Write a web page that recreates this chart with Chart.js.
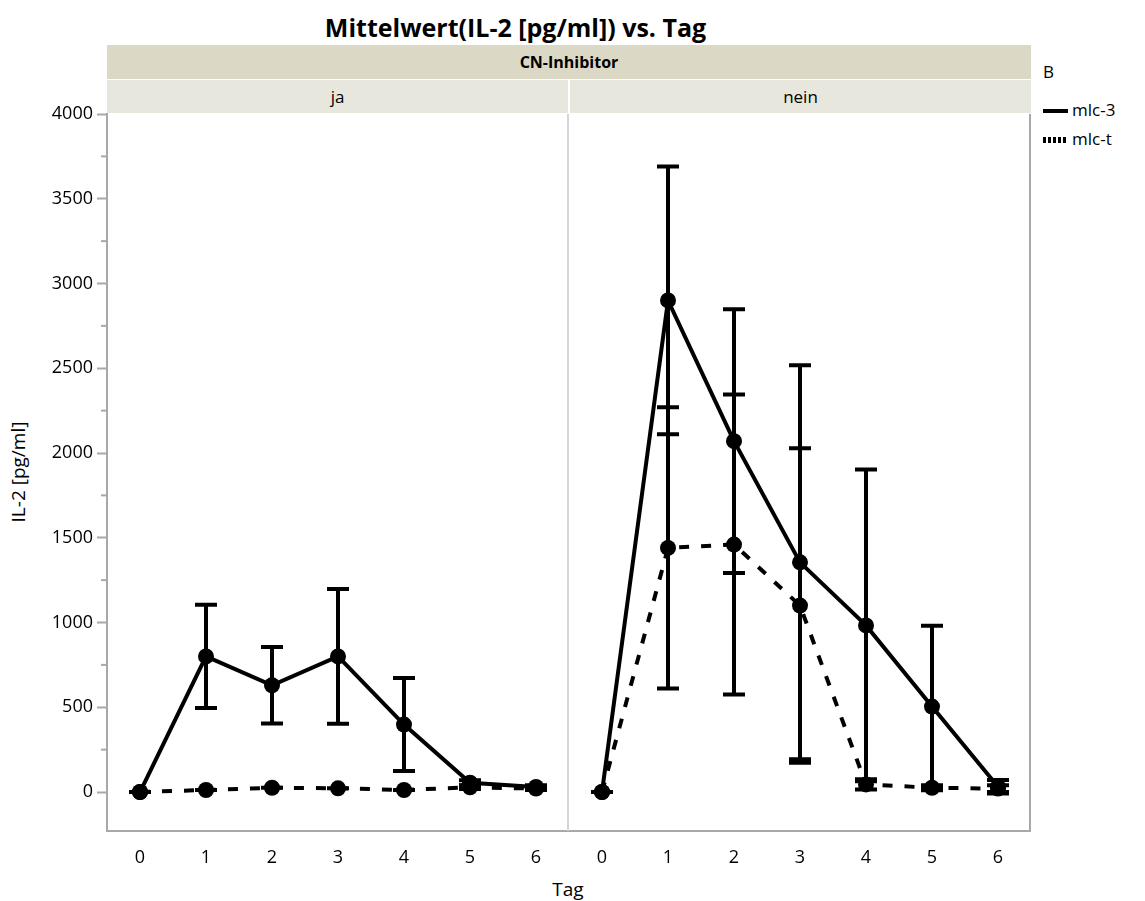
<!DOCTYPE html>
<html>
<head>
<meta charset="utf-8">
<script src="https://cdn.jsdelivr.net/npm/chart.js@4.4.1/dist/chart.umd.min.js"></script>
<style>
    body { margin: 0; background: #ffffff; width: 1145px; height: 901px; position: relative; overflow: hidden; font-family: "Open Sans", sans-serif; color: #000; }
    .abs { position: absolute; }
    #title { left: 0; width: 1031px; top: 10px; text-align: center; font-weight: bold; font-size: 25px; line-height: 34px; }
    #hdr1 { left: 107px; top: 45px; width: 924px; height: 34px; line-height: 34px; background: #dcd8c6; text-align: center; font-weight: bold; font-size: 16px; }
    .hdr2 { top: 80px; height: 33px; line-height: 33px; background: #e8e7de; text-align: center; font-size: 17px; }
    #hdrJa { left: 107px; width: 461px; }
    #hdrNein { left: 570px; width: 461px; }
    #ytitle { left: 18px; top: 472px; transform: translate(-50%, -50%) rotate(-90deg); font-size: 19px; white-space: nowrap; }
    #xtitle { left: 568px; top: 889px; transform: translate(-50%, -50%); font-size: 19px; }
    #legTitle { left: 1043px; top: 60px; font-size: 17px; }
    .legLine { left: 1043px; width: 25px; }
    #leg1 { top: 109px; height: 4px; background: #000; }
    #leg2 { top: 137px; height: 6px; background: repeating-linear-gradient(to right, #000 0 3px, transparent 3px 5px); }
    .legText { left: 1072px; font-size: 17px; }
    #wrapJa { left: 0; top: 100px; width: 569px; height: 801px; }
    #wrapNein { left: 569px; top: 100px; width: 576px; height: 801px; }
</style>
</head>
<body>
<div id="title" class="abs">Mittelwert(IL-2 [pg/ml]) vs. Tag</div>
<div id="hdr1" class="abs">CN-Inhibitor</div>
<div id="hdrJa" class="abs hdr2">ja</div>
<div id="hdrNein" class="abs hdr2">nein</div>
<div id="ytitle" class="abs">IL-2 [pg/ml]</div>
<div id="xtitle" class="abs">Tag</div>
<div id="legTitle" class="abs">B</div>
<div id="leg1" class="abs legLine"></div>
<div id="leg2" class="abs legLine"></div>
<div class="abs legText" style="top:98px">mlc-3</div>
<div class="abs legText" style="top:127px">mlc-t</div>
<div id="wrapJa" class="abs"><canvas id="chartJa"></canvas></div>
<div id="wrapNein" class="abs"><canvas id="chartNein"></canvas></div>

<script>
// Tag (x axis) and y axis ticks
const days = [0, 1, 2, 3, 4, 5, 6];
const yTicks = [0, 500, 1000, 1500, 2000, 2500, 3000, 3500, 4000];
const yMinorTicks = [250, 750, 1250, 1750, 2250, 2750, 3250, 3750];

// CN-Inhibitor = ja
const jaMlc3 = [0, 800, 630, 800, 398, 55, 30];
const jaMlc3Err = [0, 305, 226, 398, 274, 15, 10];
const jaMlcT = [0, 12, 25, 22, 12, 28, 20];
const jaMlcTErr = [0, 0, 0, 0, 0, 10, 8];

// CN-Inhibitor = nein
const neinMlc3 = [0, 2900, 2070, 1355, 983, 504, 31];
const neinMlc3Err = [0, 790, 778, 1162, 920, 477, 40];
const neinMlcT = [0, 1440, 1460, 1100, 45, 25, 20];
const neinMlcTErr = [0, 830, 885, 928, 30, 15, 20];

const tickFont = { size: 18, family: "'Open Sans', sans-serif" };
const axisGray = '#a8a8a8';

const errorBarPlugin = {
    id: 'errorBars',
    beforeDatasetsDraw(chart) {
        const { ctx, scales: { x, y } } = chart;
        ctx.save();
        ctx.strokeStyle = '#000000';
        ctx.lineWidth = 4;
        chart.data.datasets.forEach(ds => {
            if (!ds.errors) return;
            ds.data.forEach((p, i) => {
                const e = ds.errors[i];
                const px = x.getPixelForValue(p.x);
                const top = y.getPixelForValue(p.y + e);
                const bot = y.getPixelForValue(p.y - e);
                ctx.beginPath();
                ctx.moveTo(px, top); ctx.lineTo(px, bot);
                ctx.moveTo(px - 11, top); ctx.lineTo(px + 11, top);
                ctx.moveTo(px - 11, bot); ctx.lineTo(px + 11, bot);
                ctx.stroke();
            });
        });
        ctx.restore();
    }
};

const framePlugin = {
    id: 'panelFrame',
    afterDraw(chart, args, opts) {
        const { ctx, chartArea: a, scales: { y } } = chart;
        ctx.save();
        ctx.lineWidth = 2;
        ctx.strokeStyle = axisGray;
        ctx.beginPath();
        ctx.moveTo(a.left, a.bottom); ctx.lineTo(a.right, a.bottom);
        ctx.stroke();
        if (opts.left) {
            ctx.beginPath();
            ctx.moveTo(a.left, a.top - 1); ctx.lineTo(a.left, a.bottom + 1);
            ctx.stroke();
            // minor ticks
            yMinorTicks.forEach(v => {
                const py = y.getPixelForValue(v);
                ctx.beginPath();
                ctx.moveTo(a.left - 6, py); ctx.lineTo(a.left, py);
                ctx.stroke();
            });
        }
        if (opts.right) {
            ctx.strokeStyle = opts.right;
            ctx.lineWidth = opts.rightWidth || 1;
            ctx.beginPath();
            ctx.moveTo(a.right - 1, a.top); ctx.lineTo(a.right - 1, a.bottom);
            ctx.stroke();
        }
        ctx.restore();
    }
};

function makeDatasets(mlc3, mlc3Err, mlcT, mlcTErr) {
    const common = {
        borderColor: '#000000',
        backgroundColor: '#000000',
        borderWidth: 4,
        pointRadius: 8,
        pointBorderWidth: 0,
        pointBackgroundColor: '#000000',
        tension: 0,
        fill: false
    };
    return [
        { ...common, label: 'mlc-t', data: days.map((d, i) => ({ x: d, y: mlcT[i] })), errors: mlcTErr, borderDash: [10, 12] },
        { ...common, label: 'mlc-3', data: days.map((d, i) => ({ x: d, y: mlc3[i] })), errors: mlc3Err }
    ];
}

function makeOptions(showY, padding, frame) {
    return {
        responsive: true,
        maintainAspectRatio: false,
        animation: false,
        layout: { padding: padding, autoPadding: false },
        plugins: {
            legend: { display: false },
            tooltip: { enabled: false },
            panelFrame: frame
        },
        scales: {
            x: {
                type: 'linear',
                min: -0.5,
                max: 6.5,
                afterBuildTicks: s => { s.ticks = days.map(v => ({ value: v })); },
                afterFit: s => { s.height = 70; s.paddingLeft = 0; s.paddingRight = 0; },
                border: { display: false },
                grid: { display: false },
                ticks: { color: '#000000', font: tickFont, padding: 8 }
            },
            y: {
                display: showY,
                min: -230,
                max: 4000,
                afterBuildTicks: s => { s.ticks = yTicks.map(v => ({ value: v })); },
                afterFit: s => {
                    s.width = showY ? 107 : 0;
                    s.paddingTop = 0;
                    s.paddingBottom = 0;
                },
                border: { display: false },
                grid: { drawOnChartArea: false, tickLength: 10, tickColor: axisGray, tickWidth: 2 },
                ticks: {
                    color: '#000000',
                    font: tickFont,
                    padding: 4,
                    callback: v => String(v)
                }
            }
        }
    };
}

new Chart(document.getElementById('chartJa'), {
    type: 'line',
    data: { datasets: makeDatasets(jaMlc3, jaMlc3Err, jaMlcT, jaMlcTErr) },
    options: makeOptions(true, { top: 14, left: 0, right: 0, bottom: 0 }, { left: true, right: '#d6d6d6', rightWidth: 2 }),
    plugins: [errorBarPlugin, framePlugin]
});

new Chart(document.getElementById('chartNein'), {
    type: 'line',
    data: { datasets: makeDatasets(neinMlc3, neinMlc3Err, neinMlcT, neinMlcTErr) },
    options: makeOptions(false, { top: 14, left: 0, right: 114, bottom: 0 }, { left: false, right: axisGray, rightWidth: 2 }),
    plugins: [errorBarPlugin, framePlugin]
});
</script>
</body>
</html>
